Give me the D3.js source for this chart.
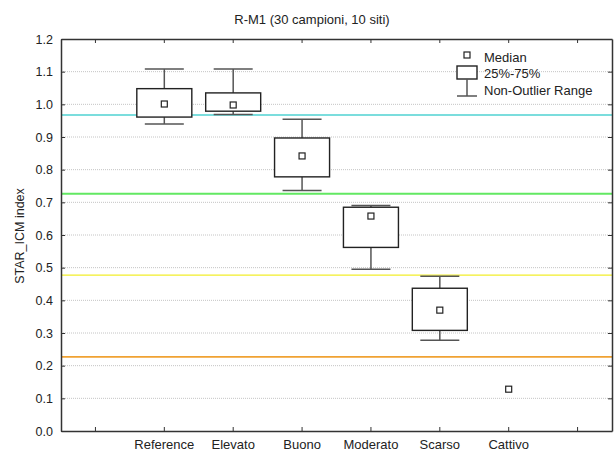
<!DOCTYPE html>
<html>
<head>
<meta charset="utf-8">
<script src="https://cdn.jsdelivr.net/npm/d3@7"></script>
<style>
    body { margin: 0; background: #fff; }
    svg { display: block; font-family: Arial, "Liberation Sans", sans-serif; }
</style>
</head>
<body>
<div id="chart"></div>
<script>
    //chart data
    var categories = ['Reference', 'Elevato', 'Buono', 'Moderato', 'Scarso', 'Cattivo'];
    var whiskerLow = [0.940, 0.969, 0.736, 0.495, 0.278, null];
    var q1 = [0.961, 0.979, 0.778, 0.562, 0.308, null];
    var medians = [1.001, 0.998, 0.842, 0.658, 0.370, 0.128];
    var q3 = [1.048, 1.035, 0.897, 0.685, 0.437, null];
    var whiskerHigh = [1.108, 1.108, 0.954, 0.690, 0.474, null];
    var thresholds = [0.967, 0.726, 0.477, 0.227];
    var yTicks = [0.0, 0.1, 0.2, 0.3, 0.4, 0.5, 0.6, 0.7, 0.8, 0.9, 1.0, 1.1, 1.2];
    var legendLabels = ['Median', '25%-75%', 'Non-Outlier Range'];

    //threshold line styles
    var lineColors = ['#4fd2d2', '#62e862', '#f2ee2a', '#f0a232'],
        lineWidths = [1.5, 2, 1.2, 1.6];

    //chart size and plot area
    var width = 614,
        height = 451,
        plot = { left: 61, top: 39, right: 612, bottom: 431 };

    //create svg
    var svg = d3.select('#chart').append('svg')
        .attr('width', width)
        .attr('height', height);

    //x domain has an empty slot on each side
    var xDomain = ['_l'].concat(categories).concat(['_r']);
    var xScale = d3.scaleBand().domain(xDomain).range([plot.left, plot.right]);
    var yScale = d3.scaleLinear().domain([0, 1.2]).range([plot.bottom, plot.top]);
    var cx = function (i) { return xScale(categories[i]) + xScale.bandwidth() / 2; };

    //grid lines
    svg.append('g').selectAll('line')
        .data(yTicks.slice(1, -1))
        .enter().append('line')
        .attr('x1', plot.left).attr('x2', plot.right)
        .attr('y1', function (d) { return yScale(d); })
        .attr('y2', function (d) { return yScale(d); })
        .attr('stroke', '#c4c4c4')
        .attr('stroke-width', 1)
        .attr('stroke-dasharray', '1,1');

    //threshold lines
    svg.append('g').selectAll('line')
        .data(thresholds)
        .enter().append('line')
        .attr('x1', plot.left).attr('x2', plot.right)
        .attr('y1', function (d) { return yScale(d); })
        .attr('y2', function (d) { return yScale(d); })
        .attr('stroke', function (d, i) { return lineColors[i]; })
        .attr('stroke-width', function (d, i) { return lineWidths[i]; });

    //axes
    var fmtX = function (d) { return d.charAt(0) === '_' ? '' : d; };
    var bottomAxis = svg.append('g')
        .attr('transform', 'translate(0,' + plot.bottom + ')')
        .call(d3.axisBottom(xScale).tickSize(-4).tickSizeOuter(0).tickPadding(9).tickFormat(fmtX));
    var topAxis = svg.append('g')
        .attr('transform', 'translate(0,' + plot.top + ')')
        .call(d3.axisTop(xScale).tickSize(-4).tickSizeOuter(0).tickFormat(''));
    var leftAxis = svg.append('g')
        .attr('transform', 'translate(' + plot.left + ',0)')
        .call(d3.axisLeft(yScale).tickValues(yTicks).tickSize(-4).tickSizeOuter(0).tickPadding(8).tickFormat(d3.format('.1f')));
    var rightAxis = svg.append('g')
        .attr('transform', 'translate(' + plot.right + ',0)')
        .call(d3.axisRight(yScale).tickValues(yTicks).tickSize(-4).tickSizeOuter(0).tickFormat(''));

    //style axes
    [bottomAxis, topAxis, leftAxis, rightAxis].forEach(function (a) {
        a.select('.domain').attr('stroke', '#333').attr('stroke-width', 1.5);
        a.selectAll('.tick line').attr('stroke', '#333');
        a.selectAll('text').attr('fill', '#222').style('font-size', '13px').style('font-family', 'Arial, "Liberation Sans", sans-serif');
    });
    leftAxis.selectAll('text').style('font-size', '12.5px');

    //box plots
    var boxW = 55,
        capW = 39;
    var boxG = svg.append('g');
    categories.forEach(function (c, i) {
        var x = cx(i);
        if (whiskerHigh[i] !== null) {
            //whiskers
            boxG.append('line')
                .attr('x1', x).attr('x2', x)
                .attr('y1', yScale(q3[i])).attr('y2', yScale(whiskerHigh[i]))
                .attr('stroke', '#555').attr('stroke-width', 1.5);
            boxG.append('line')
                .attr('x1', x).attr('x2', x)
                .attr('y1', yScale(q1[i])).attr('y2', yScale(whiskerLow[i]))
                .attr('stroke', '#555').attr('stroke-width', 1.5);
            [whiskerHigh[i], whiskerLow[i]].forEach(function (v) {
                boxG.append('line')
                    .attr('x1', x - capW / 2).attr('x2', x + capW / 2)
                    .attr('y1', yScale(v)).attr('y2', yScale(v))
                    .attr('stroke', '#555').attr('stroke-width', 1.5);
            });

            //box
            boxG.append('rect')
                .attr('x', x - boxW / 2)
                .attr('y', yScale(q3[i]))
                .attr('width', boxW)
                .attr('height', yScale(q1[i]) - yScale(q3[i]))
                .attr('fill', '#fff')
                .attr('stroke', '#222')
                .attr('stroke-width', 1.4);
        }

        //median marker
        boxG.append('rect')
            .attr('x', x - 3).attr('y', yScale(medians[i]) - 3)
            .attr('width', 6).attr('height', 6)
            .attr('fill', '#fff')
            .attr('stroke', '#222')
            .attr('stroke-width', 1.2);
    });

    //legend
    var lg = svg.append('g').attr('transform', 'translate(467,0)');
    lg.append('rect').attr('x', -3).attr('y', 52).attr('width', 6).attr('height', 6)
        .attr('fill', '#fff').attr('stroke', '#222').attr('stroke-width', 1.2);
    lg.append('rect').attr('x', -10).attr('y', 66).attr('width', 20).attr('height', 13)
        .attr('fill', '#fff').attr('stroke', '#222').attr('stroke-width', 1.4);
    lg.append('line').attr('x1', 0).attr('x2', 0).attr('y1', 79).attr('y2', 96)
        .attr('stroke', '#555').attr('stroke-width', 1.5);
    lg.append('line').attr('x1', -10).attr('x2', 10).attr('y1', 96).attr('y2', 96)
        .attr('stroke', '#555').attr('stroke-width', 1.5);
    lg.selectAll('text')
        .data(legendLabels)
        .enter().append('text')
        .attr('x', 17)
        .attr('y', function (d, i) { return 62 + i * 16.3; })
        .attr('fill', '#222')
        .style('font-size', '13px')
        .text(function (d) { return d; });

    //title
    svg.append('text')
        .attr('x', 312).attr('y', 24)
        .attr('text-anchor', 'middle')
        .attr('fill', '#222')
        .style('font-size', '13px')
        .text('R-M1 (30 campioni, 10 siti)');

    //y axis title
    svg.append('text')
        .attr('transform', 'translate(24,236) rotate(-90)')
        .attr('text-anchor', 'middle')
        .attr('fill', '#222')
        .style('font-size', '12.5px')
        .text('STAR_ICM index');
</script>
</body>
</html>
